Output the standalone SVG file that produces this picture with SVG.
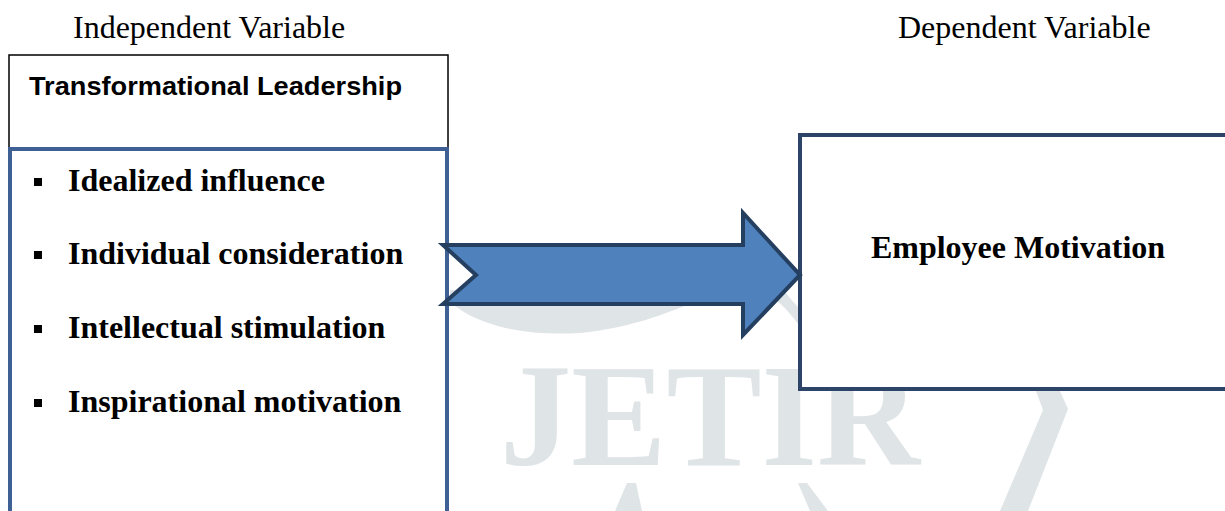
<svg xmlns="http://www.w3.org/2000/svg" width="1225" height="511" viewBox="0 0 1225 511">
<style>
.hdr{font-family:"Liberation Serif","Times New Roman",serif;font-size:32px;fill:#000}
.item{font-family:"Liberation Serif","Times New Roman",serif;font-size:32px;font-weight:bold;fill:#000}
.title{font-family:"Liberation Sans",Arial,sans-serif;font-size:25px;font-weight:bold;fill:#000}
.wm{fill:#dfe4e7}
.bullet{fill:#000}
</style>
<rect x="0" y="0" width="1225" height="511" fill="#fff"/>
<g id="watermark">
<text x="500" y="465" class="wm" font-family="Liberation Serif,serif" font-size="146" font-weight="bold" textLength="420" lengthAdjust="spacingAndGlyphs">JETIR</text>
<path class="wm" d="M450,302 C480,328 530,336 580,333 C630,328 665,314 700,300 L700,290 L450,290 Z"/>
<path class="wm" d="M760,288 L778,283 C788,296 797,306 806,316 L798,324 C788,310 776,298 760,288 Z"/>
<path class="wm" d="M1036,391 L1060,391 L1068,409 L1028,511 L1000,511 L1043,410 Z"/>
<path class="wm" d="M627,483 L636,483 L642,511 L615,511 Z"/>
<path class="wm" d="M798,483 L807,483 L828,511 L810,511 Z"/>
</g>
<text class="hdr" x="73" y="38">Independent Variable</text>
<text class="hdr" x="898" y="38">Dependent Variable</text>
<g id="node-tl-header">
<rect x="9" y="55" width="439" height="93" fill="#fff" stroke="#000" stroke-width="1.5"/>
<text class="title" x="29" y="95" textLength="373" lengthAdjust="spacingAndGlyphs">Transformational Leadership</text>
</g>
<g id="node-tl-dimensions">
<rect x="10" y="149" width="437" height="380" fill="#fff" stroke="#3e6095" stroke-width="4"/>
<rect class="bullet" x="34" y="178" width="8" height="8"/>
<text class="item" x="68" y="191">Idealized influence</text>
<rect class="bullet" x="34" y="251" width="8" height="8"/>
<text class="item" x="68" y="264">Individual consideration</text>
<rect class="bullet" x="34" y="325" width="8" height="8"/>
<text class="item" x="68" y="338">Intellectual stimulation</text>
<rect class="bullet" x="34" y="399" width="8" height="8"/>
<text class="item" x="68" y="412">Inspirational motivation</text>
</g>
<g id="node-employee-motivation">
<rect x="800" y="135" width="440" height="254" fill="#fff" stroke="#2b4468" stroke-width="4"/>
<text class="item" x="1018" y="258" text-anchor="middle">Employee Motivation</text>
</g>
<g id="connectors">
<path d="M443,245 L743,245 L743,213 L800,275 L743,335 L743,304 L443,304 L476,275 Z" fill="#4f81bd" stroke="#243f60" stroke-width="4" stroke-linejoin="miter"/>
</g>
</svg>
